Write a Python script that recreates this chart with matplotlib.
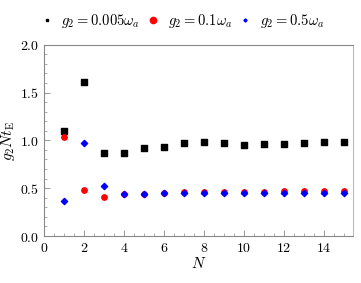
import matplotlib
matplotlib.use("Agg")
import matplotlib.pyplot as plt
from matplotlib.ticker import MultipleLocator, FuncFormatter
from matplotlib.lines import Line2D

plt.rcParams['mathtext.fontset'] = 'cm'
plt.rcParams['font.family'] = 'serif'
plt.rcParams['font.serif'] = ['DejaVu Serif']

N = list(range(1, 16))
g_0005 = [1.10, 1.61, 0.87, 0.87, 0.92, 0.93, 0.97, 0.985, 0.975, 0.955, 0.96, 0.96, 0.97, 0.98, 0.98]
g_01 = [1.04, 0.486, 0.405, 0.44, 0.437, 0.45, 0.457, 0.46, 0.46, 0.465, 0.465, 0.47, 0.47, 0.47, 0.47]
g_05 = [0.363, 0.974, 0.524, 0.444, 0.444, 0.447, 0.447, 0.447, 0.447, 0.447, 0.447, 0.447, 0.447, 0.447, 0.447]

labels = [r'$g_2 = 0.005\omega_a$', r'$g_2 = 0.1\omega_a$', r'$g_2 = 0.5\omega_a$']

fig = plt.figure(figsize=(3.61, 2.83), dpi=100)
ax = fig.add_axes([0.122, 0.166, 0.856, 0.676])

ax.scatter(N, g_0005, marker='s', s=17, color='black', zorder=3)
ax.scatter(N, g_01, marker='o', s=15, color='red', zorder=3)
ax.scatter(N, g_05, marker='D', s=10, color='blue', zorder=4)

ax.set_xlim(0, 15.45)
ax.set_ylim(0, 2.0)
ax.xaxis.set_major_locator(MultipleLocator(2))
ax.xaxis.set_minor_locator(MultipleLocator(0.5))
ax.yaxis.set_major_locator(MultipleLocator(0.5))
ax.yaxis.set_minor_locator(MultipleLocator(0.1))
ax.xaxis.set_major_formatter(FuncFormatter(lambda v, p: r'$%d$' % v))
ax.yaxis.set_major_formatter(FuncFormatter(lambda v, p: r'$%.1f$' % v))
ax.tick_params(which='both', direction='in', top=False, right=False,
               color='#888888', labelsize=10)
ax.tick_params(which='major', length=4, width=0.6)
ax.tick_params(which='minor', length=2, width=0.5)
for sp in ax.spines.values():
    sp.set_color('#888888')
    sp.set_linewidth(0.8)
ax.spines['right'].set_color('#bbbbbb')

ax.set_xlabel(r'$N$', fontsize=11, labelpad=1)
ax.set_ylabel(r'$g_2 N t_{\rm E}$', fontsize=11, labelpad=2)

handles = [Line2D([], [], marker='s', ls='', color='black', markersize=1.6),
           Line2D([], [], marker='o', ls='', color='red', markersize=4.5),
           Line2D([], [], marker='D', ls='', color='blue', markersize=1.6)]
fig.legend(handles, labels, loc='center', bbox_to_anchor=(0.505, 0.925), ncol=3,
           frameon=False, fontsize=10.5, handlelength=0.8, handletextpad=0.6,
           columnspacing=0.5)

fig.savefig('out.png', dpi=100)
